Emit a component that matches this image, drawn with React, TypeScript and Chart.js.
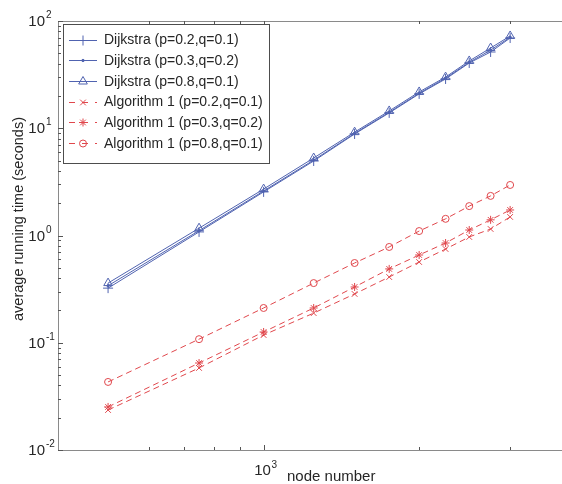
import React, { useEffect, useRef } from "react";
import { Chart, registerables } from "chart.js";
import { drawPoint } from "chart.js/helpers";

Chart.register(...registerables);

// ---------- data ----------
const nodeNumbers = [500, 750, 1000, 1250, 1500, 1750, 2000, 2250, 2500, 2750, 3000];
const dijkstraP02 = [0.323, 1.08, 2.55, 4.95, 8.84, 13.9, 20.9, 28.8, 40.6, 51.4, 69.4];
const dijkstraP03 = [0.34, 1.11, 2.6, 5.05, 8.95, 14.1, 21.2, 29.3, 41.2, 53.5, 70.5];
const dijkstraP08 = [0.36, 1.17, 2.71, 5.28, 9.2, 14.5, 21.8, 30.0, 42.4, 56.0, 72.5];
const algP02 = [0.0236, 0.0582, 0.118, 0.189, 0.285, 0.41, 0.566, 0.748, 0.969, 1.15, 1.49];
const algP03 = [0.0252, 0.0647, 0.126, 0.211, 0.331, 0.488, 0.658, 0.851, 1.125, 1.4, 1.73];
const algP08 = [0.0431, 0.108, 0.211, 0.36, 0.554, 0.782, 1.1, 1.43, 1.88, 2.34, 2.96];

const seriesLabels = [
  "Dijkstra (p=0.2,q=0.1)",
  "Dijkstra (p=0.3,q=0.2)",
  "Dijkstra (p=0.8,q=0.1)",
  "Algorithm 1 (p=0.2,q=0.1)",
  "Algorithm 1 (p=0.3,q=0.2)",
  "Algorithm 1 (p=0.8,q=0.1)",
];

// axis ranges (the original figure is cropped at its right edge)
const xMin = 400;
const xMax = 3780;
const yMin = 0.01;
const yMax = 100;

const xTickValues = [1000];
const xTickExponents = ["3"];
const xMinorTickValues = [600, 700, 800, 900, 2000, 3000];
const yTickValues = [0.01, 0.1, 1, 10, 100];
const yTickExponents = ["-2", "-1", "0", "1", "2"];
const yMinorMultipliers = [2, 3, 4, 5, 6, 7, 8, 9];

const xTitle = "node number";
const yTitle = "average running time (seconds)";

const BLUE = "#5063b0";
const RED = "#e0474c";
const TEXT = "#262626";
const AXIS = "#8a8a8a";
const FONT = '"Liberation Sans", Arial, sans-serif';

function makeData() {
  const pts = (ys: number[]) => nodeNumbers.map((x, i) => ({ x, y: ys[i] }));
  return {
    datasets: [
      {
        label: seriesLabels[0], data: pts(dijkstraP02), borderColor: BLUE, borderWidth: 1,
        pointStyle: "cross", pointRadius: 5, pointBorderWidth: 1, pointBorderColor: BLUE,
        pointBackgroundColor: BLUE, borderDash: [] as number[],
      },
      {
        label: seriesLabels[1], data: pts(dijkstraP03), borderColor: BLUE, borderWidth: 1,
        pointStyle: "circle", pointRadius: 1.2, pointBorderWidth: 1, pointBorderColor: BLUE,
        pointBackgroundColor: BLUE, borderDash: [] as number[],
      },
      {
        label: seriesLabels[2], data: pts(dijkstraP08), borderColor: BLUE, borderWidth: 1,
        pointStyle: "triangle", pointRadius: 5, pointBorderWidth: 1, pointBorderColor: BLUE,
        pointBackgroundColor: "rgba(255,255,255,0)", borderDash: [] as number[],
      },
      {
        label: seriesLabels[3], data: pts(algP02), borderColor: RED, borderWidth: 1,
        pointStyle: "crossRot", pointRadius: 4, pointBorderWidth: 1, pointBorderColor: RED,
        pointBackgroundColor: RED, borderDash: [6, 4],
      },
      {
        label: seriesLabels[4], data: pts(algP03), borderColor: RED, borderWidth: 1,
        pointStyle: "star", pointRadius: 4, pointBorderWidth: 1, pointBorderColor: RED,
        pointBackgroundColor: RED, borderDash: [6, 4],
      },
      {
        label: seriesLabels[5], data: pts(algP08), borderColor: RED, borderWidth: 1,
        pointStyle: "circle", pointRadius: 3.5, pointBorderWidth: 1, pointBorderColor: RED,
        pointBackgroundColor: "rgba(255,255,255,0)", borderDash: [6, 4],
      },
    ],
  };
}

const decorPlugin = {
  id: "decor",
  afterDraw(chart: any) {
    const { ctx } = chart;
    const xs = chart.scales.x;
    const ys = chart.scales.y;
    const left = xs.left;
    const right = xs.right;
    const top = ys.top;
    const bottom = ys.bottom;
    ctx.save();

    // frame (left, top, bottom; right side falls outside the cropped figure)
    ctx.strokeStyle = AXIS;
    ctx.lineWidth = 1;
    ctx.setLineDash([]);
    ctx.beginPath();
    ctx.moveTo(left, Math.round(top) + 0.5);
    ctx.lineTo(right, Math.round(top) + 0.5);
    ctx.moveTo(left, Math.round(bottom) + 0.5);
    ctx.lineTo(right, Math.round(bottom) + 0.5);
    ctx.moveTo(Math.round(left) + 0.5, top);
    ctx.lineTo(Math.round(left) + 0.5, bottom);
    ctx.stroke();

    // ticks (inward, mirrored on top)
    ctx.strokeStyle = "#555";
    ctx.beginPath();
    const xTick = (v: number, len: number) => {
      const px = Math.round(xs.getPixelForValue(v)) + 0.5;
      ctx.moveTo(px, bottom);
      ctx.lineTo(px, bottom - len);
      ctx.moveTo(px, top);
      ctx.lineTo(px, top + len);
    };
    xTickValues.forEach((v) => xTick(v, 5));
    xMinorTickValues.forEach((v) => xTick(v, 3));
    const yTick = (v: number, len: number) => {
      const py = Math.round(ys.getPixelForValue(v)) + 0.5;
      ctx.moveTo(left, py);
      ctx.lineTo(left + len, py);
    };
    yTickValues.forEach((v) => yTick(v, 5));
    yTickValues.slice(0, -1).forEach((v) => yMinorMultipliers.forEach((m) => yTick(v * m, 3)));
    ctx.stroke();

    // tick labels
    ctx.fillStyle = TEXT;
    ctx.textBaseline = "middle";
    yTickValues.forEach((v, i) => {
      const py = ys.getPixelForValue(v);
      ctx.font = `15px ${FONT}`;
      ctx.textAlign = "right";
      ctx.fillText("10", 45, py + 1);
      ctx.font = `10px ${FONT}`;
      ctx.textAlign = "left";
      ctx.textBaseline = "alphabetic";
      ctx.fillText(yTickExponents[i], 46, py - 3);
      ctx.textBaseline = "middle";
    });
    xTickValues.forEach((v, i) => {
      const px = xs.getPixelForValue(v);
      ctx.font = `15px ${FONT}`;
      ctx.textAlign = "center";
      ctx.fillText("10", px - 1, bottom + 21);
      ctx.font = `10px ${FONT}`;
      ctx.textAlign = "left";
      ctx.textBaseline = "alphabetic";
      ctx.fillText(xTickExponents[i], px + 8, bottom + 18);
      ctx.textBaseline = "middle";
    });

    // axis titles
    ctx.font = `15px ${FONT}`;
    ctx.textAlign = "left";
    ctx.textBaseline = "alphabetic";
    ctx.fillText(xTitle, 287, bottom + 31);

    ctx.save();
    ctx.translate(19, 219);
    ctx.rotate(-Math.PI / 2);
    ctx.font = `14.5px ${FONT}`;
    ctx.textAlign = "center";
    ctx.textBaseline = "middle";
    ctx.fillText(yTitle, 0, 0);
    ctx.restore();

    // legend
    const lx = left + 5;
    const ly = top + 3;
    const lw = 206;
    const lh = 139;
    ctx.fillStyle = "#fff";
    ctx.fillRect(lx, ly, lw, lh);
    ctx.strokeStyle = "#4d4d4d";
    ctx.lineWidth = 1;
    ctx.strokeRect(lx + 0.5, ly + 0.5, lw, lh);
    chart.data.datasets.forEach((ds: any, i: number) => {
      const cy = ly + 15.5 + i * 20.7;
      ctx.strokeStyle = ds.borderColor;
      ctx.lineWidth = ds.borderWidth;
      ctx.setLineDash(ds.borderDash && ds.borderDash.length ? [6, 7] : []);
      ctx.beginPath();
      ctx.moveTo(lx + 6, Math.round(cy) + 0.5);
      ctx.lineTo(lx + 34, Math.round(cy) + 0.5);
      ctx.stroke();
      ctx.setLineDash([]);
      ctx.fillStyle = ds.pointBackgroundColor;
      ctx.strokeStyle = ds.pointBorderColor;
      drawPoint(ctx, { pointStyle: ds.pointStyle, radius: ds.pointRadius, rotation: 0, borderWidth: 1 } as any, lx + 20, Math.round(cy) + 0.5);
      ctx.fillStyle = TEXT;
      ctx.font = `14px ${FONT}`;
      ctx.textAlign = "left";
      ctx.textBaseline = "middle";
      ctx.fillText(ds.label, lx + 41, cy + 1);
    });

    ctx.restore();
  },
};

export default function App() {
  const canvasRef = useRef<HTMLCanvasElement | null>(null);

  useEffect(() => {
    if (!canvasRef.current) return;
    const chart = new Chart(canvasRef.current, {
      type: "line",
      data: makeData() as any,
      options: {
        responsive: false,
        maintainAspectRatio: false,
        animation: false,
        devicePixelRatio: 1,
        layout: { autoPadding: false, padding: { top: 21, right: 0, left: 0, bottom: 0 } },
        plugins: { legend: { display: false }, tooltip: { enabled: false }, title: { display: false } },
        elements: { line: { tension: 0 } },
        scales: {
          x: {
            type: "logarithmic",
            min: xMin,
            max: xMax,
            position: "bottom",
            grid: { display: false },
            border: { display: false },
            ticks: { display: false },
            afterFit: (s: any) => { s.height = 34; },
          },
          y: {
            type: "logarithmic",
            min: yMin,
            max: yMax,
            position: "left",
            grid: { display: false },
            border: { display: false },
            ticks: { display: false },
            afterFit: (s: any) => { s.width = 58; },
          },
        },
      } as any,
      plugins: [decorPlugin],
    });
    return () => chart.destroy();
  }, []);

  return (
    <div
      style={{
        position: "fixed",
        left: 0,
        top: 0,
        width: 562,
        height: 484,
        overflow: "hidden",
        background: "#fff",
      }}
    >
      <canvas ref={canvasRef} width={562} height={484} style={{ display: "block", width: 562, height: 484 }} />
    </div>
  );
}
